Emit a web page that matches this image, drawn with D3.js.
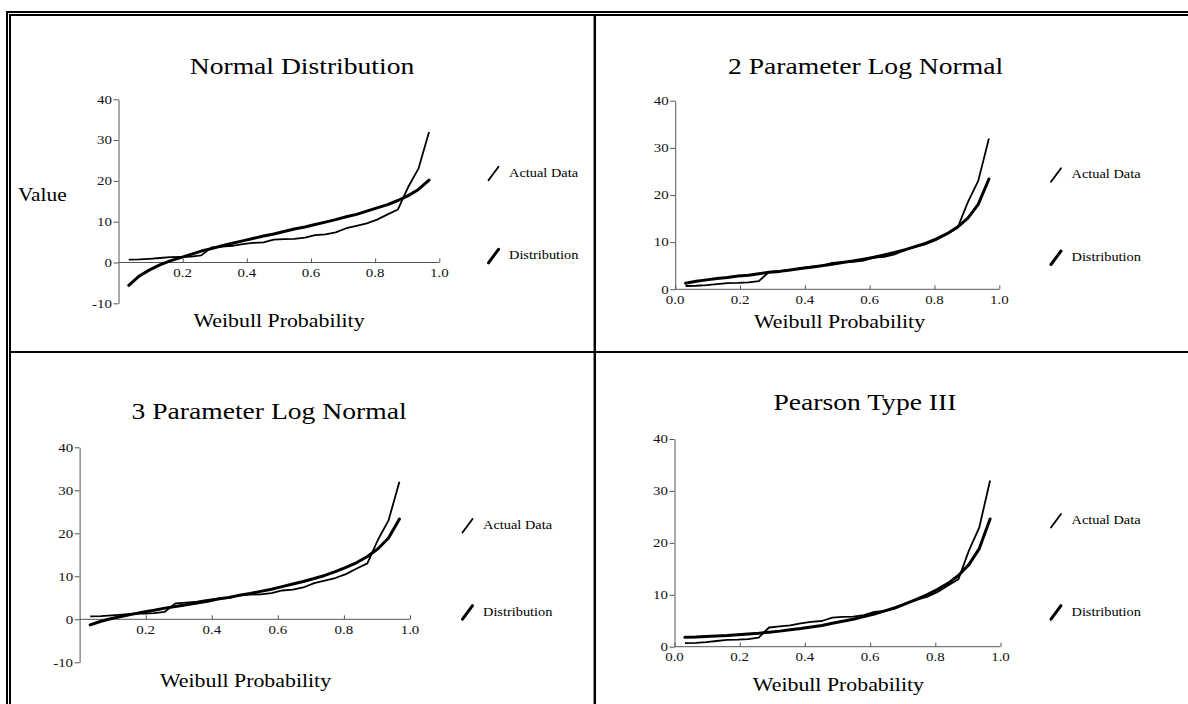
<!DOCTYPE html>
<html><head><meta charset="utf-8">
<script src="https://cdn.jsdelivr.net/npm/d3@7"></script>
<style>
html,body{margin:0;padding:0;background:#fff;}
svg{display:block;}
text{font-family:"Liberation Serif","Times New Roman",serif;}
</style></head>
<body>
<svg id="c" width="1188" height="704"></svg>
<script>
// ---------- data ----------
const weibullProb = [0.032,0.065,0.097,0.129,0.161,0.194,0.226,0.258,0.290,0.323,
  0.355,0.387,0.419,0.452,0.484,0.516,0.548,0.581,0.613,0.645,
  0.677,0.710,0.742,0.774,0.806,0.839,0.871,0.903,0.935,0.968];
const actualData = [0.7,0.75,0.9,1.1,1.3,1.35,1.45,1.75,3.7,3.9,
  4.1,4.5,4.8,4.95,5.6,5.75,5.8,6.1,6.7,6.9,
  7.4,8.4,9.0,9.6,10.5,11.8,13.0,18.5,23.0,32.0];
const normalDist = [-5.6,-3.3,-1.8,-0.6,0.4,1.2,2.0,2.8,3.4,4.1,
  4.7,5.3,5.9,6.5,7.0,7.6,8.2,8.7,9.3,9.9,
  10.5,11.2,11.8,12.6,13.4,14.2,15.2,16.4,17.9,20.2];
const logNormal2Dist = [1.3,1.7,2.0,2.3,2.5,2.8,3.0,3.3,3.6,3.8,
  4.1,4.4,4.7,5.0,5.3,5.7,6.0,6.4,6.8,7.3,
  7.8,8.4,9.1,9.8,10.7,11.8,13.2,15.1,18.0,23.4];
const logNormal3Dist = [-1.3,-0.45,0.2,0.7,1.2,1.7,2.1,2.6,3.0,3.4,
  3.8,4.2,4.7,5.1,5.6,6.0,6.5,7.0,7.6,8.2,
  8.8,9.5,10.2,11.1,12.1,13.2,14.6,16.4,18.9,23.3];
const pearson3Dist = [1.8,1.85,1.95,2.05,2.15,2.3,2.45,2.6,2.8,3.0,
  3.25,3.5,3.8,4.1,4.5,4.9,5.3,5.8,6.3,6.9,
  7.5,8.3,9.1,10.0,11.0,12.2,13.7,15.8,18.9,24.6];
const titles = ["Normal Distribution","2 Parameter Log Normal","3 Parameter Log Normal","Pearson Type III"];
const xTicksMid = [0.2,0.4,0.6,0.8,1.0];
const xTicksFull = [0.0,0.2,0.4,0.6,0.8,1.0];
const yTicksNeg = [-10,0,10,20,30,40];
const yTicksPos = [0,10,20,30,40];
const legendLabels = ["Actual Data","Distribution"];
const xTitle = "Weibull Probability";
const yTitle = "Value";

// ---------- layout ----------
const SX = 1.15; // horizontal stretch of the original text
const panels = [
 {title:titles[0], dist:normalDist, xr:[118.5,439.3], yd:[-10,40], yr:[303.3,99.3], xt:xTicksMid, yt:yTicksNeg,
  tx:302, ty:74, lx:279, ly:326.7, legX:509, legA:176.7, legD:259.3, value:true},
 {title:titles[1], dist:logNormal2Dist, xr:[675.2,999.3], yd:[0,40], yr:[289.3,100.7], xt:xTicksFull, yt:yTicksPos,
  tx:865.6, ty:74, lx:839.5, ly:328.3, legX:1071.5, legA:178.3, legD:261},
 {title:titles[2], dist:logNormal3Dist, xr:[79.6,410], yd:[-10,40], yr:[662.3,447.3], xt:xTicksMid, yt:yTicksNeg,
  tx:269, ty:419, lx:245.5, ly:687.3, legX:483, legA:529, legD:615.7},
 {title:titles[3], dist:pearson3Dist, xr:[674.5,1000.5], yd:[0,40], yr:[646.7,439], xt:xTicksFull, yt:yTicksPos,
  tx:864.9, ty:410, lx:838.4, ly:690.7, legX:1071.5, legA:524, legD:615.7}
];

const svg = d3.select("#c");

function txt(x, y, s, size, anchor, fill){
  svg.append("text")
    .attr("transform", `translate(${x},${y}) scale(${SX},1)`)
    .attr("text-anchor", anchor || "start")
    .attr("font-size", size)
    .attr("fill", fill || "#000")
    .text(s);
}

// ---------- table borders ----------
const B = svg.append("g").attr("fill","none").attr("stroke","#000");
B.append("line").attr("x1",7).attr("y1",12).attr("x2",1200).attr("y2",12).attr("stroke-width",2);
B.append("line").attr("x1",7).attr("y1",11).attr("x2",7).attr("y2",720).attr("stroke-width",2);
B.append("line").attr("x1",10).attr("y1",15).attr("x2",1200).attr("y2",15).attr("stroke-width",2);
B.append("line").attr("x1",10).attr("y1",14).attr("x2",10).attr("y2",720).attr("stroke-width",2);
B.append("line").attr("x1",594.8).attr("y1",15).attr("x2",594.8).attr("y2",720).attr("stroke-width",2.5);
B.append("line").attr("x1",10).attr("y1",352).attr("x2",1200).attr("y2",352).attr("stroke-width",2);

// ---------- panels ----------
panels.forEach(p => {
  const x = d3.scaleLinear().domain([0,1]).range(p.xr);
  const y = d3.scaleLinear().domain(p.yd).range(p.yr);
  const g = svg.append("g");

  // x axis at value 0
  const xa = g.append("g").attr("transform",`translate(0,${y(0)})`)
    .call(d3.axisBottom(x).tickValues(p.xt).tickFormat(d3.format(".1f")).tickSize(-4).tickSizeOuter(0));
  xa.select(".domain").attr("stroke","#555").attr("d",`M${x(0)},0H${x(1)}`);
  xa.selectAll(".tick line").attr("stroke","#555");
  xa.selectAll(".tick text").remove();
  p.xt.forEach(v => txt(x(v), y(0)+14.5, d3.format(".1f")(v), 13, "middle", "#111"));

  // y axis at x = 0
  const ya = g.append("g").attr("transform",`translate(${x(0)},0)`)
    .call(d3.axisLeft(y).tickValues(p.yt).tickSize(5).tickSizeOuter(0));
  ya.select(".domain").attr("stroke","#555");
  ya.selectAll(".tick line").attr("stroke","#555");
  ya.selectAll(".tick text").remove();
  p.yt.forEach(v => txt(x(0)-6.5, y(v)+4.2, String(v), 13, "end", "#111"));

  // lines
  const line = d3.line().x((d,i)=>x(weibullProb[i])).y(d=>y(d));
  g.append("path").datum(actualData).attr("d",line).attr("fill","none")
    .attr("stroke","#000").attr("stroke-width",1.8).attr("stroke-linejoin","round");
  g.append("path").datum(p.dist).attr("d",line).attr("fill","none")
    .attr("stroke","#000").attr("stroke-width",3).attr("stroke-linejoin","round").attr("stroke-linecap","round");

  // titles
  txt(p.tx, p.ty, p.title, 24, "middle");
  txt(p.lx, p.ly, xTitle, 19, "middle");
  if (p.value) txt(18, 200.7, yTitle, 18.6, "start");

  // legend
  [[p.legA,1.8],[p.legD,3]].forEach((d,i) => {
    g.append("line").attr("x1",p.legX-20.5).attr("y1",d[0]+3.5)
      .attr("x2",p.legX-10.5).attr("y2",d[0]-10)
      .attr("stroke","#000").attr("stroke-width",d[1]).attr("stroke-linecap","round");
    txt(p.legX, d[0], legendLabels[i], 12.5, "start");
  });
});
</script>
</body></html>
